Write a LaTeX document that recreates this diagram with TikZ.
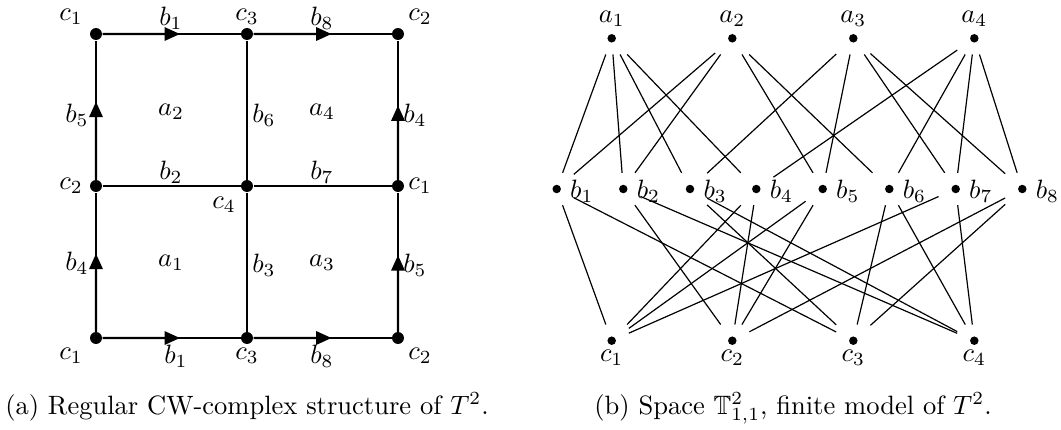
\documentclass[tikz,border=0pt]{standalone}
\usepackage{amssymb}
\usetikzlibrary{arrows.meta,calc}
\begin{document}
\begin{tikzpicture}[x=0.377pt,y=-0.377pt,
  cwdot/.style={circle,fill,inner sep=0pt,minimum size=4.5pt},
  hnode/.style={rectangle,inner sep=0pt,minimum width=12.5pt,minimum height=11.8pt,
    path picture={\fill (path picture bounding box.center) circle[radius=1.6pt];}},
  outer/.style={line width=0.65pt},
  arr/.style={line width=0.85pt,-{Triangle[length=5.8pt,width=5pt]}},
  innerline/.style={line width=0.45pt},
  midline/.style={line width=0.65pt},
  lab/.style={inner sep=0pt},
  blab/.style={inner sep=0pt,anchor=west},
  hedge/.style={line width=0.45pt}]
\useasboundingbox (0,0) rectangle (1061,429);

% ---------- (a) CW complex ----------
\node[cwdot] (v11) at (96,34) {};
\node[cwdot] (v12) at (247,34) {};
\node[cwdot] (v13) at (398,34) {};
\node[cwdot] (v21) at (96,186) {};
\node[cwdot] (v22) at (247,186) {};
\node[cwdot] (v23) at (398,186) {};
\node[cwdot] (v31) at (96,338) {};
\node[cwdot] (v32) at (247,338) {};
\node[cwdot] (v33) at (398,338) {};

\coordinate (m1) at ($(v11)!0.556!(v12)$);
\coordinate (m2) at ($(v12)!0.56!(v13)$);
\coordinate (m3) at ($(v31)!0.556!(v32)$);
\coordinate (m4) at ($(v32)!0.56!(v33)$);
\coordinate (m5) at ($(v31)!0.555!(v21)$);
\coordinate (m6) at ($(v21)!0.555!(v11)$);
\coordinate (m7) at ($(v23)!0.53!(v13)$);
\coordinate (m8) at ($(v33)!0.545!(v23)$);

\draw[outer] (v11) -- (v12);
\draw[outer] (v12) -- (v13);
\draw[outer] (v31) -- (v32);
\draw[outer] (v32) -- (v33);
\draw[outer] (v31) -- (v21);
\draw[outer] (v21) -- (v11);
\draw[outer] (v23) -- (v13);
\draw[outer] (v33) -- (v23);
\draw[midline] (v21) -- (v22);
\draw[midline] (v22) -- (v23);
\draw[innerline] (v12) -- (v22);
\draw[innerline] (v22) -- (v32);

\draw[arr] (v11) -- (m1);
\draw[arr] (v12) -- (m2);
\draw[arr] (v31) -- (m3);
\draw[arr] (v32) -- (m4);
\draw[arr] (v31) -- (m5);
\draw[arr] (v21) -- (m6);
\draw[arr] (v23) -- (m7);
\draw[arr] (v33) -- (m8);

\node[lab] (l1) at (71,17) {$c_1$};
\node[lab] (l2) at (171,18) {$b_1$};
\node[lab] (l3) at (247,17) {$c_3$};
\node[lab] (l4) at (322,18) {$b_8$};
\node[lab] (l5) at (420,17) {$c_2$};
\node[lab] (l6) at (77,115) {$b_5$};
\node[lab] (l7) at (171,112) {$a_2$};
\node[lab] (l8) at (264,115) {$b_6$};
\node[lab] (l9) at (322,112) {$a_4$};
\node[lab] (l10) at (415,115) {$b_4$};
\node[lab] (l11) at (171,172) {$b_2$};
\node[lab] (l12) at (322,172) {$b_7$};
\node[lab] (l13) at (71,186) {$c_2$};
\node[lab] (l14) at (420,186) {$c_1$};
\node[lab] (l15) at (224,205) {$c_4$};
\node[lab] (l16) at (77,263) {$b_4$};
\node[lab] (l17) at (171,263) {$a_1$};
\node[lab] (l18) at (264,265) {$b_3$};
\node[lab] (l19) at (322,263) {$a_3$};
\node[lab] (l20) at (415,265) {$b_5$};
\node[lab] (l21) at (71,356) {$c_1$};
\node[lab] (l22) at (176,356) {$b_1$};
\node[lab] (l23) at (247,356) {$c_3$};
\node[lab] (l24) at (322,356) {$b_8$};
\node[lab] (l25) at (420,356) {$c_2$};

% ---------- (b) finite model ----------
\foreach \i/\x in {1/611.7,2/732.3,3/853.3,4/974.3}{
  \node[hnode] (a\i) at (\x,38.3) {};
  \node[lab] (la\i) at (\x,19) {$a_{\i}$};
  \node[hnode] (c\i) at (\x,340.7) {};
  \node[lab] (lc\i) at (\x,358) {$c_{\i}$};
}
\foreach \j/\x in {1/556.7,2/623.3,3/690,4/756.3,5/822.7,6/889.3,7/955.7,8/1022.3}{
  \node[hnode] (b\j) at (\x,189) {};
  \node[blab] (lb\j) at (\x+13,191) {$b_{\j}$};
}

\foreach \a/\b in {1/1,1/2,1/3,1/4,2/1,2/2,2/5,2/6,3/3,3/5,3/7,3/8,4/4,4/6,4/7,4/8}{
  \draw[hedge] (a\a) -- (b\b);
}
\foreach \c/\b in {1/1,1/4,1/5,1/7,2/2,2/4,2/5,2/8,3/1,3/3,3/6,3/8,4/2,4/3,4/6,4/7}{
  \draw[hedge] (c\c) -- (b\b);
}

% ---------- captions ----------
\node[anchor=base] (capa) at (247,414) {(a) Regular CW-complex structure of $T^2$.};
\node[anchor=base] (capb) at (793,414) {(b) Space $\mathbb{T}^2_{1,1}$, finite model of $T^2$.};
\end{tikzpicture}
\end{document}
